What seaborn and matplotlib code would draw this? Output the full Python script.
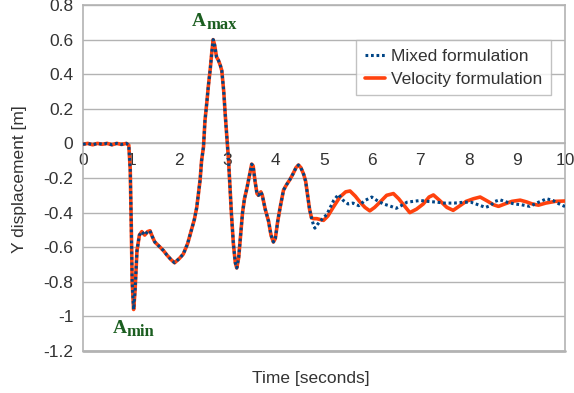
import numpy as np
import pandas as pd
import matplotlib
matplotlib.use("Agg")
import matplotlib.pyplot as plt
import seaborn as sns

# ---- data ----
t_common = [0.0, 0.1, 0.2, 0.3, 0.4, 0.5, 0.6, 0.7, 0.8, 0.9, 0.95, 0.98, 1.0, 1.02, 1.05,
            1.08, 1.12, 1.17, 1.22, 1.28, 1.34, 1.39, 1.44, 1.49, 1.6, 1.67, 1.74, 1.82, 1.9,
            2.0, 2.08, 2.17, 2.25, 2.31, 2.36, 2.4, 2.43, 2.46, 2.5, 2.53, 2.57, 2.6, 2.64,
            2.67, 2.70, 2.73, 2.77, 2.81, 2.85, 2.88, 2.92, 2.95, 2.99, 3.02, 3.05, 3.08, 3.12,
            3.16, 3.19, 3.23, 3.27, 3.31, 3.35, 3.4, 3.45, 3.5, 3.53, 3.57, 3.61, 3.64, 3.69,
            3.72, 3.78, 3.85, 3.9, 3.95, 3.99, 4.04, 4.09, 4.16, 4.22, 4.29, 4.35, 4.42, 4.47,
            4.52, 4.58, 4.62, 4.66, 4.70, 4.74]
y_common = [-0.005, 0.0, -0.008, 0.0, -0.005, 0.0, -0.008, 0.0, -0.006, 0.0, -0.01, -0.15,
            -0.45, -0.8, -0.96, -0.85, -0.62, -0.53, -0.51, -0.53, -0.51, -0.505, -0.54, -0.57,
            -0.6, -0.62, -0.645, -0.67, -0.69, -0.665, -0.64, -0.58, -0.50, -0.44, -0.37, -0.28,
            -0.21, -0.10, -0.02, 0.13, 0.24, 0.33, 0.43, 0.52, 0.60, 0.57, 0.50, 0.48, 0.45,
            0.42, 0.30, 0.17, 0.02, -0.10, -0.25, -0.41, -0.58, -0.69, -0.72, -0.66, -0.53,
            -0.40, -0.32, -0.26, -0.19, -0.12, -0.13, -0.22, -0.29, -0.30, -0.28, -0.30, -0.38,
            -0.45, -0.53, -0.57, -0.55, -0.45, -0.37, -0.27, -0.24, -0.21, -0.18, -0.14, -0.125,
            -0.14, -0.18, -0.22, -0.30, -0.38, -0.43]

t_mixed_tail = [4.78, 4.81, 4.86, 4.92, 4.99, 5.06, 5.13, 5.2, 5.3, 5.4, 5.5, 5.6, 5.72, 5.85,
                5.99, 6.1, 6.23, 6.35, 6.5, 6.6, 6.72, 6.85, 7.0, 7.15, 7.35, 7.5, 7.7, 7.9,
                8.05, 8.2, 8.35, 8.45, 8.55, 8.65, 8.8, 8.95, 9.1, 9.27, 9.45, 9.62, 9.75,
                9.88, 10.0]
y_mixed_tail = [-0.47, -0.49, -0.47, -0.45, -0.43, -0.41, -0.37, -0.33, -0.295, -0.33, -0.35,
                -0.345, -0.36, -0.33, -0.31, -0.33, -0.35, -0.36, -0.375, -0.36, -0.34, -0.335,
                -0.33, -0.335, -0.34, -0.345, -0.345, -0.34, -0.34, -0.355, -0.37, -0.36,
                -0.335, -0.326, -0.34, -0.35, -0.355, -0.364, -0.34, -0.32, -0.33, -0.35,
                -0.365]

t_velocity_tail = [4.78, 4.85, 4.92, 4.99, 5.08, 5.19, 5.33, 5.45, 5.54, 5.65, 5.75, 5.85,
                   5.95, 6.05, 6.16, 6.3, 6.44, 6.55, 6.65, 6.78, 6.92, 7.06, 7.18, 7.27, 7.4,
                   7.55, 7.68, 7.82, 7.95, 8.1, 8.24, 8.4, 8.52, 8.62, 8.75, 8.9, 9.07, 9.2,
                   9.32, 9.45, 9.6, 9.8, 10.0]
y_velocity_tail = [-0.435, -0.435, -0.44, -0.445, -0.42, -0.37, -0.31, -0.28, -0.275, -0.305,
                   -0.34, -0.37, -0.39, -0.37, -0.34, -0.30, -0.29, -0.32, -0.355, -0.40,
                   -0.38, -0.35, -0.31, -0.298, -0.33, -0.37, -0.387, -0.36, -0.335, -0.32,
                   -0.31, -0.335, -0.355, -0.364, -0.35, -0.335, -0.328, -0.338, -0.35,
                   -0.357, -0.345, -0.335, -0.333]

series_names = ["Mixed formulation", "Velocity formulation"]
y_ticks = [0.8, 0.6, 0.4, 0.2, 0, -0.2, -0.4, -0.6, -0.8, -1, -1.2]
x_ticks = list(range(0, 11))

# ---- build frames ----
df_mixed = pd.DataFrame({"t": t_common + t_mixed_tail, "y": y_common + y_mixed_tail})
df_vel = pd.DataFrame({"t": t_common + t_velocity_tail, "y": y_common + y_velocity_tail})

sns.set_style("white")
plt.rcParams["font.family"] = ["Liberation Sans", "DejaVu Sans"]

fig = plt.figure(figsize=(5.74, 3.93), dpi=100)
ax = fig.add_axes([83 / 574, 1 - 351 / 393, (565 - 83) / 574, (351 - 5) / 393])

grid_c = "#b3b3b3"
text_c = "#333333"
c_mixed = "#004586"
c_vel = "#ff420e"

sns.lineplot(data=df_vel, x="t", y="y", ax=ax, color=c_vel, lw=2.6,
             sort=False, estimator=None, label=series_names[1], zorder=3)
sns.lineplot(data=df_mixed, x="t", y="y", ax=ax, color=c_mixed, lw=2.2,
             sort=False, estimator=None, label=series_names[0], zorder=4,
             linestyle=(0, (0.9, 0.9)))

ax.set_xlim(0, 10)
ax.set_ylim(-1.2, 0.8)
ax.set_xticks(x_ticks)
ax.set_xticklabels([str(v) for v in x_ticks])
ax.set_yticks(y_ticks)
ax.set_yticklabels([f"{v:g}" for v in y_ticks])

ax.yaxis.grid(True, color=grid_c, lw=1)
ax.xaxis.grid(False)
ax.set_axisbelow(True)

for s in ["left", "right", "top", "bottom"]:
    ax.spines[s].set_color(grid_c)
    ax.spines[s].set_linewidth(1.2)
ax.spines["bottom"].set_position(("data", 0))
ax.axhline(-1.2, color=grid_c, lw=2, zorder=1, clip_on=False)

ax.tick_params(axis="both", which="major", direction="out", length=4, width=1,
               color=grid_c, labelcolor=text_c, labelsize=12.5)
ax.tick_params(axis="x", pad=3)
ax.tick_params(axis="y", pad=3)

ax.set_xlabel("")
ax.set_ylabel("")
fig.text(20 / 574, 1 - 179 / 393, "Y displacement [m]", rotation=90, ha="center",
         va="center", color=text_c, fontsize=12.5)
fig.text(311 / 574, 1 - 379 / 393, "Time [seconds]", ha="center", va="center",
         color=text_c, fontsize=12.5)

# annotations
green = "#1b5e20"
ann_kw = dict(family=["Liberation Serif", "DejaVu Serif"], fontweight="bold",
              color=green, ha="left", va="baseline", zorder=6)
ax.text(2.261, 0.676, "A", fontsize=14, **ann_kw)
ax.text(2.552, 0.659, "max", fontsize=12, **ann_kw)
ax.text(0.612, -1.097, "A", fontsize=14, **ann_kw)
ax.text(0.907, -1.116, "min", fontsize=12, **ann_kw)

handles, labels = ax.get_legend_handles_labels()
order = [labels.index(n) for n in series_names]
leg = ax.legend([handles[i] for i in order], [labels[i] for i in order],
                loc="upper left", bbox_to_anchor=((356 - 83) / 482, (351 - 40) / 346),
                frameon=True, fancybox=False, edgecolor=grid_c, fontsize=12.5,
                handlelength=1.15, handletextpad=0.35, borderpad=0.5, labelspacing=0.45,
                borderaxespad=0)
leg.get_frame().set_linewidth(1)
for txt in leg.get_texts():
    txt.set_color(text_c)
leg.set_zorder(7)

fig.savefig("out.png", dpi=100)
